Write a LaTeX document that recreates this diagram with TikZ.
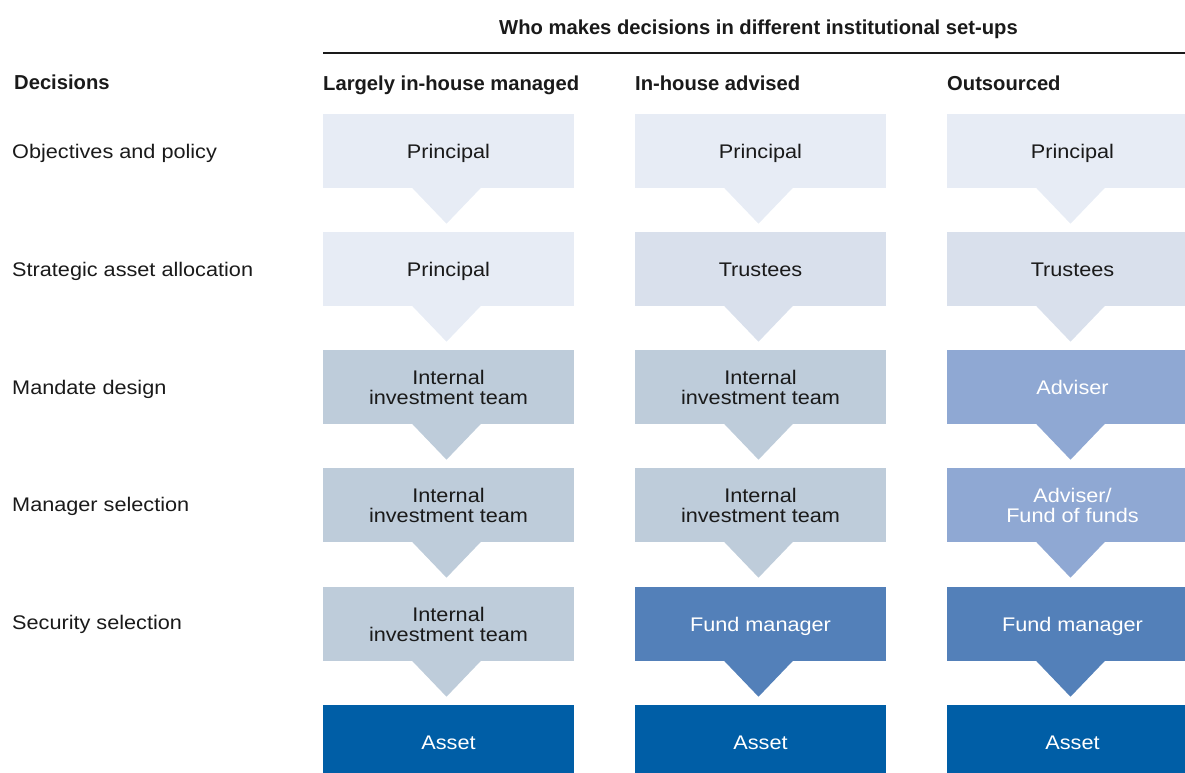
\documentclass[tikz,border=0pt]{standalone}
\usepackage{fontspec}
\setmainfont{Liberation Sans}[UprightFont=*, BoldFont=* Bold, UprightFeatures={FakeStretch=1.1}]
\usetikzlibrary{calc}
\definecolor{ink}{HTML}{1A1A1A}
\definecolor{cprin}{HTML}{E7ECF5}
\definecolor{ctrust}{HTML}{D9E0EC}
\definecolor{cteam}{HTML}{BECCDA}
\definecolor{cadv}{HTML}{8FA8D3}
\definecolor{cfund}{HTML}{5380B9}
\definecolor{casset}{HTML}{005EA6}
% pointer below a box, in the box colour
\newcommand\pointer[2]{\fill[#2] ($(#1.south)+(-37,-0.5)$) -- ($(#1.south)+(33,-0.5)$) -- ($(#1.south)+(-2,36)$) -- cycle;}
\begin{document}
\begin{tikzpicture}[x=1pt,y=-1pt,
  body/.style={font=\fontsize{19.7}{20}\selectfont, inner sep=0pt},
  hdr/.style={font=\bfseries\fontsize{20.2}{22}\selectfont, text=ink, inner sep=0pt},
  box/.style={body, rectangle, minimum width=251pt, minimum height=73.5pt,
              align=center, text height=15pt, text depth=0pt, text=ink},
  two/.style={text height=35pt},
  light/.style={text=white},
  rowlabel/.style={body, text=ink, anchor=west, text height=15pt, text depth=0pt}]
\useasboundingbox (0,0) rectangle (1185,772);
\clip (0,0) rectangle (1185,772);

% title and rule
\node[hdr, anchor=base] (title) at (758.5,34) {Who makes decisions in different institutional set-ups};
\coordinate (ruleL) at (323,53);
\coordinate (ruleR) at (1185,53);
\draw[line width=1.5pt, ink] (ruleL) -- (ruleR);

% column headers
\node[hdr, anchor=base west] (hdec) at (14,89.5) {Decisions};
\node[hdr, anchor=base west] (hc1) at (323,90) {Largely in-house managed};
\node[hdr, anchor=base west] (hc2) at (635,90) {In-house advised};
\node[hdr, anchor=base west] (hc3) at (947,90) {Outsourced};

% row labels
\node[rowlabel] (r1) at (12,150.75) {Objectives and policy};
\node[rowlabel] (r2) at (12,268.75) {Strategic asset allocation};
\node[rowlabel] (r3) at (12,387) {Mandate design};
\node[rowlabel] (r4) at (12,504) {Manager selection};
\node[rowlabel] (r5) at (12,622) {Security selection};

% column 1: largely in-house managed
\node[box, fill=cprin] (a1) at (448.5,150.75) {Principal};
\node[box, fill=cprin] (a2) at (448.5,268.75) {Principal};
\node[box, two, fill=cteam] (a3) at (448.5,386.75) {Internal\\investment team};
\node[box, two, fill=cteam] (a4) at (448.5,504.75) {Internal\\investment team};
\node[box, two, fill=cteam] (a5) at (448.5,623.75) {Internal\\investment team};
\node[box, light, fill=casset] (a6) at (448.5,741.5) {Asset};

% column 2: in-house advised
\node[box, fill=cprin] (b1) at (760.5,150.75) {Principal};
\node[box, fill=ctrust] (b2) at (760.5,268.75) {Trustees};
\node[box, two, fill=cteam] (b3) at (760.5,386.75) {Internal\\investment team};
\node[box, two, fill=cteam] (b4) at (760.5,504.75) {Internal\\investment team};
\node[box, light, fill=cfund] (b5) at (760.5,623.75) {Fund manager};
\node[box, light, fill=casset] (b6) at (760.5,741.5) {Asset};

% column 3: outsourced
\node[box, fill=cprin] (c1) at (1072.5,150.75) {Principal};
\node[box, fill=ctrust] (c2) at (1072.5,268.75) {Trustees};
\node[box, light, fill=cadv] (c3) at (1072.5,386.75) {Adviser};
\node[box, two, light, fill=cadv] (c4) at (1072.5,504.75) {Adviser/\\Fund of funds};
\node[box, light, fill=cfund] (c5) at (1072.5,623.75) {Fund manager};
\node[box, light, fill=casset] (c6) at (1072.5,741.5) {Asset};

% pointers between decision levels
\pointer{a1}{cprin}\pointer{a2}{cprin}\pointer{a3}{cteam}\pointer{a4}{cteam}\pointer{a5}{cteam}
\pointer{b1}{cprin}\pointer{b2}{ctrust}\pointer{b3}{cteam}\pointer{b4}{cteam}\pointer{b5}{cfund}
\pointer{c1}{cprin}\pointer{c2}{ctrust}\pointer{c3}{cadv}\pointer{c4}{cadv}\pointer{c5}{cfund}
\end{tikzpicture}
\end{document}
